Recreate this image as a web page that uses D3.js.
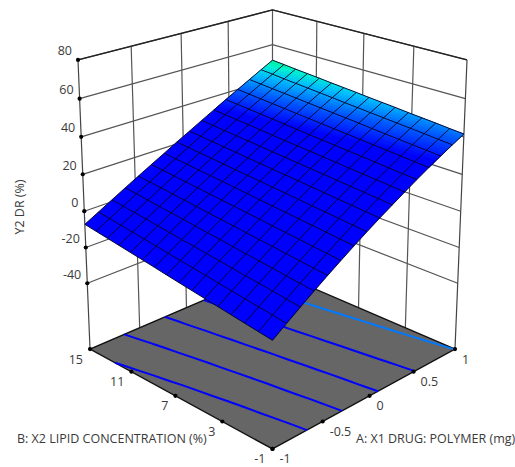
<!DOCTYPE html>
<html>
<head>
<meta charset="utf-8">
<script src="https://cdn.jsdelivr.net/npm/d3@7"></script>
<style>
  html, body { margin: 0; padding: 0; background: #fff; }
  text { font-family: "Open Sans", sans-serif; font-size: 12.5px; fill: #3a3a3a; }
</style>
</head>
<body>
<svg id="chart" width="515" height="467"></svg>
<script>
// tick labels
const aTicks = [-1, -0.5, 0, 0.5, 1];
const bTicks = [-1, 3, 7, 11, 15];
const zTicks = [-40, -20, 0, 20, 40, 60, 80];
const zMin = -77.7;
const zMax = 80;
const contourLevels = [-9.5, 3.3, 16, 28.5, 41.3];

// response: one row per B step (-1 to 15), one column per A step (-1 to 1)
const zRows = [
  [-22.3,-17.2,-12.2,-7.3,-2.5,2.1,6.6,11,15.2,19.3,23.3,27.2,31,34.6,38.1,41.5],
  [-21.3,-16.2,-11.3,-6.5,-1.8,2.8,7.3,11.6,15.9,20,24,27.8,31.6,35.2,38.7,42.1],
  [-20.3,-15.3,-10.4,-5.7,-1,3.5,8,12.3,16.5,20.6,24.6,28.4,32.2,35.8,39.4,42.8],
  [-19.3,-14.4,-9.5,-4.8,-0.2,4.3,8.7,13,17.1,21.2,25.2,29,32.8,36.4,40,43.4],
  [-18.3,-13.4,-8.7,-4,0.6,5,9.4,13.6,17.8,21.8,25.8,29.6,33.4,37,40.6,44],
  [-17.3,-12.5,-7.8,-3.2,1.3,5.7,10.1,14.3,18.4,22.5,26.4,30.2,34,37.6,41.2,44.7],
  [-16.3,-11.5,-6.9,-2.4,2.1,6.5,10.8,15,19.1,23.1,27,30.8,34.6,38.3,41.8,45.3],
  [-15.3,-10.6,-6,-1.5,2.9,7.2,11.5,15.6,19.7,23.7,27.6,31.4,35.2,38.9,42.4,45.9],
  [-14.3,-9.7,-5.1,-0.7,3.7,8,12.2,16.3,20.3,24.3,28.2,32,35.8,39.5,43,46.6],
  [-13.2,-8.7,-4.3,0.1,4.4,8.7,12.9,17,21,24.9,28.8,32.6,36.4,40.1,43.7,47.2],
  [-12.2,-7.8,-3.4,1,5.2,9.4,13.6,17.6,21.6,25.6,29.4,33.3,37,40.7,44.3,47.8],
  [-11.2,-6.8,-2.5,1.8,6,10.2,14.3,18.3,22.3,26.2,30.1,33.9,37.6,41.3,44.9,48.5],
  [-10.2,-5.9,-1.6,2.6,6.8,10.9,14.9,19,22.9,26.8,30.7,34.5,38.2,41.9,45.5,49.1],
  [-9.2,-5,-0.7,3.4,7.6,11.6,15.7,19.6,23.6,27.4,31.3,35.1,38.8,42.5,46.1,49.7],
  [-8.2,-4,0.1,4.3,8.3,12.4,16.3,20.3,24.2,28.1,31.9,35.7,39.4,43.1,46.8,50.4],
  [-7.2,-3.1,1,5.1,9.1,13.1,17,21,24.8,28.7,32.5,36.3,40,43.7,47.4,51]
];

const aMin = -1, aMax = 1, bMin = -1, bMax = 15;

const x = d3.scaleLinear().domain([aMin, aMax]).range([-1, 1]);
const y = d3.scaleLinear().domain([bMin, bMax]).range([-1, 1]);
const z = d3.scaleLinear().domain([zMin, zMax]).range([-1, 1]);
const colIndex = d3.scaleLinear().domain([0, zRows[0].length - 1]).range([aMin, aMax]);
const rowIndex = d3.scaleLinear().domain([0, zRows.length - 1]).range([bMin, bMax]);

// surface colours, blue until near the top of the response
const color = d3.scaleLinear()
  .domain([33, 40, 45.5, 49, 51])
  .range(["#0000ff", "#0060ff", "#00c4ff", "#00ffd0", "#00ff90"])
  .clamp(true);

// camera fitted to the corners of the box
const cam = { cx: 272.5, cy: 209.1, kh: 188.3, alpha: 144.4, beta: 73.2, t: 0.1247, u: 0.0319 };

function project(a, b, v) {
  const X = x(a), Y = y(b), Z = z(v);
  const h = (X - Y) / 2, g = (X + Y) / 2;
  const D = 1 + g * cam.t - Z * cam.u;
  return [cam.cx + cam.kh * h / D, cam.cy - (cam.alpha * Z + cam.beta * g) / D];
}

const svg = d3.select("#chart");
const line = d3.line();

function draw3d(pts, stroke, width, group) {
  return group.append("path")
    .attr("d", line(pts))
    .attr("fill", "none")
    .attr("stroke", stroke)
    .attr("stroke-width", width);
}

// walls
const walls = svg.append("g");
zTicks.forEach(v => {
  draw3d([project(aMin, bMax, v), project(aMax, bMax, v), project(aMax, bMin, v)], "#555", 1.2, walls);
});
aTicks.slice(1, -1).forEach(a => {
  draw3d([project(a, bMax, zMin), project(a, bMax, zMax)], "#555", 1.2, walls);
});
bTicks.slice(1, -1).forEach(b => {
  draw3d([project(aMax, b, zMin), project(aMax, b, zMax)], "#555", 1.2, walls);
});
draw3d([project(aMin, bMax, zMin), project(aMin, bMax, zMax)], "#444", 1.2, walls);
draw3d([project(aMax, bMax, zMin), project(aMax, bMax, zMax)], "#555", 1.2, walls);
draw3d([project(aMax, bMin, zMin), project(aMax, bMin, zMax)], "#444", 1.2, walls);
draw3d([project(aMin, bMax, zMax), project(aMax, bMax, zMax), project(aMax, bMin, zMax)], "#222", 1.3, walls);

// floor
const floor = svg.append("g");
floor.append("path")
  .attr("d", line([project(aMin, bMin, zMin), project(aMax, bMin, zMin), project(aMax, bMax, zMin), project(aMin, bMax, zMin)]) + "Z")
  .attr("fill", "#666")
  .attr("stroke", "#111")
  .attr("stroke-width", 1.4);

// contours on the floor, d3.contours works on pixel centres so shift by half a cell
const nCols = zRows[0].length, nRows = zRows.length;
const contourGen = d3.contours().size([nCols, nRows]).thresholds(contourLevels);
contourGen(zRows.flat()).forEach(c => {
  c.coordinates.forEach(poly => poly.forEach(ring => {
    let run = [];
    const flush = () => {
      if (run.length > 1) draw3d(run, d3.color(color(c.value)).formatHex(), 2, floor);
      run = [];
    };
    ring.forEach(p => {
      const inside = p[0] > 0 && p[0] < nCols && p[1] > 0 && p[1] < nRows;
      if (!inside) { flush(); return; }
      run.push(project(colIndex(p[0] - 0.5), rowIndex(p[1] - 0.5), zMin));
    });
    flush();
  }));
});

// surface, a solid sheet first so no seams show through
const surface = svg.append("g");
const edge = [
  ...zRows[0].map((v, j) => project(colIndex(j), rowIndex(0), v)),
  ...zRows.map((row, i) => project(colIndex(nCols - 1), rowIndex(i), row[nCols - 1])),
  ...zRows[nRows - 1].map((v, j) => project(colIndex(j), rowIndex(nRows - 1), v)).reverse(),
  ...zRows.map((row, i) => project(colIndex(0), rowIndex(i), row[0])).reverse()
];
surface.append("path").attr("d", line(edge) + "Z").attr("fill", "#0000ff");

// cells above the plain blue range get split up so the colour runs smoothly
const sub = 5;
for (let i = 0; i < nRows - 1; i++) {
  for (let j = 0; j < nCols - 1; j++) {
    const v00 = zRows[i][j], v01 = zRows[i][j + 1], v10 = zRows[i + 1][j], v11 = zRows[i + 1][j + 1];
    if (Math.max(v00, v01, v10, v11) <= color.domain()[0]) continue;
    const val = (p, q) => v00 * (1 - p) * (1 - q) + v01 * q * (1 - p) + v10 * (1 - q) * p + v11 * p * q;
    const pt = (p, q) => project(colIndex(j + q), rowIndex(i + p), val(p, q));
    for (let m = 0; m < sub; m++) {
      for (let n = 0; n < sub; n++) {
        const p0 = m / sub, p1 = (m + 1) / sub, q0 = n / sub, q1 = (n + 1) / sub;
        const fill = color(val((p0 + p1) / 2, (q0 + q1) / 2));
        surface.append("path")
          .attr("d", line([pt(p0, q0), pt(p0, q1), pt(p1, q1), pt(p1, q0)]) + "Z")
          .attr("fill", fill)
          .attr("stroke", fill)
          .attr("stroke-width", 0.4);
      }
    }
  }
}
// mesh lines
zRows.forEach((row, i) => {
  draw3d(row.map((v, j) => project(colIndex(j), rowIndex(i), v)), "#000020", 0.9, surface);
});
zRows[0].forEach((_, j) => {
  draw3d(zRows.map((row, i) => project(colIndex(j), rowIndex(i), row[j])), "#000020", 0.9, surface);
});

// tick dots and labels
const labels = svg.append("g");
function tick(pt, txt, dx, dy, anchor) {
  labels.append("circle").attr("cx", pt[0]).attr("cy", pt[1]).attr("r", 2.1).attr("fill", "#000");
  labels.append("text")
    .attr("x", pt[0] + dx).attr("y", pt[1] + dy)
    .attr("text-anchor", anchor)
    .attr("dominant-baseline", "central")
    .text(txt);
}
zTicks.forEach(v => tick(project(aMin, bMax, v), v, -6, -9, "end"));
bTicks.forEach(b => tick(project(aMin, b, zMin), b, -7, 10, "end"));
aTicks.forEach(a => tick(project(a, bMin, zMin), a, 7, 10, "start"));

svg.append("text").attr("x", 17).attr("y", 438).attr("dominant-baseline", "central")
  .text("B: X2 LIPID CONCENTRATION (%)");
svg.append("text").attr("x", 356).attr("y", 438).attr("dominant-baseline", "central")
  .text("A: X1 DRUG: POLYMER (mg)");
svg.append("text").attr("transform", "translate(19,207) rotate(-90)")
  .attr("text-anchor", "middle").attr("dominant-baseline", "central")
  .text("Y2 DR (%)");
</script>
</body>
</html>
